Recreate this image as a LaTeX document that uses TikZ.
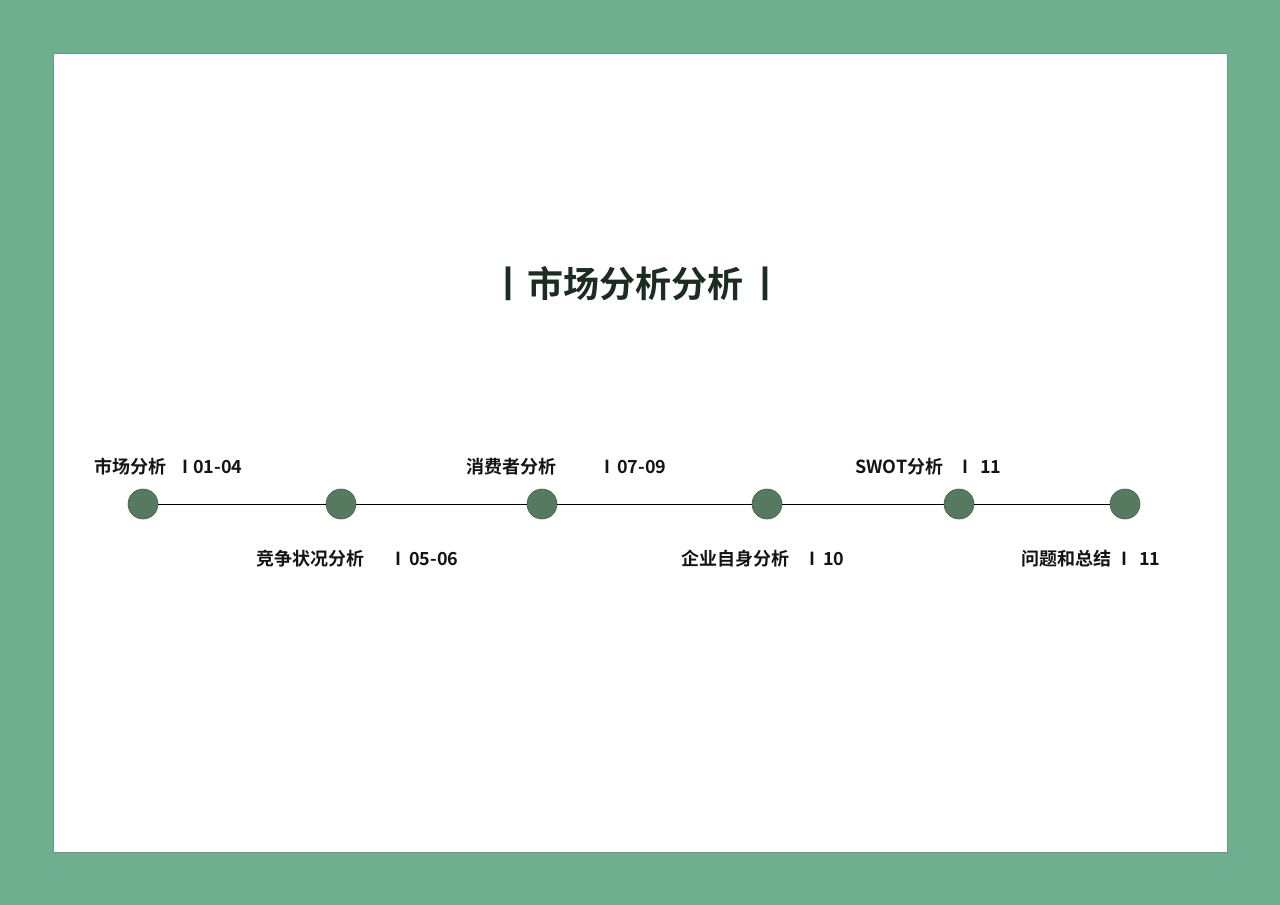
\documentclass[tikz,border=0pt]{standalone}
\usepackage{fontspec}
\setmainfont{Noto Sans CJK SC}[BoldFont={Noto Sans CJK SC Bold}]
\definecolor{frame}{HTML}{70AE90}
\definecolor{dot}{HTML}{557A5F}
\definecolor{titlec}{HTML}{1B2C20}
\definecolor{labc}{HTML}{141414}
\begin{document}
\begin{tikzpicture}[x=1pt,y=-1pt,
  dotnode/.style={circle,fill=dot,draw=dot!80!black,line width=0.6pt,minimum size=30pt,inner sep=0pt},
  lab/.style={anchor=west,inner sep=0pt,font=\bfseries\fontsize{18}{18}\selectfont,text=labc},
  ttl/.style={anchor=center,inner sep=0pt,font=\bfseries\fontsize{36}{36}\selectfont,text=titlec}]
\fill[frame] (0,0) rectangle (1280,905);
\useasboundingbox (0,0) rectangle (1280,905);
\fill[white,draw=frame!90!black,line width=0.5pt] (53,53) rectangle (1227,852);
% title
\node[ttl] (tb1) at (508,284) {丨};
\node[ttl,anchor=west] (title) at (527,284) {市场分析分析};
\node[ttl] (tb2) at (765,284) {丨};
% dots
\node[dotnode] (d1) at (143,504) {};
\node[dotnode] (d2) at (341,504) {};
\node[dotnode] (d3) at (542,504) {};
\node[dotnode] (d4) at (767,504) {};
\node[dotnode] (d5) at (959,504) {};
\node[dotnode] (d6) at (1125,504) {};
\draw[black,line width=0.9pt] (d1) -- (d2) -- (d3) -- (d4) -- (d5) -- (d6);
% labels top
\node[lab] (l1) at (94,467) {市场分析};
\node[lab] (l1b) at (182,467) {I};
\node[lab] (l1n) at (193,467) {01-04};
\node[lab] (l3) at (466,467) {消费者分析};
\node[lab] (l3b) at (604,467) {I};
\node[lab] (l3n) at (617,467) {07-09};
\node[lab] (l5) at (855,467) {SWOT分析};
\node[lab] (l5b) at (962,467) {I};
\node[lab] (l5n) at (980,467) {11};
% labels bottom
\node[lab] (l2) at (256,559) {竞争状况分析};
\node[lab] (l2b) at (395,559) {I};
\node[lab] (l2n) at (409,559) {05-06};
\node[lab] (l4) at (681,559) {企业自身分析};
\node[lab] (l4b) at (809,559) {I};
\node[lab] (l4n) at (823,559) {10};
\node[lab] (l6) at (1021,559) {问题和总结};
\node[lab] (l6b) at (1121,559) {I};
\node[lab] (l6n) at (1139,559) {11};
\end{tikzpicture}
\end{document}
